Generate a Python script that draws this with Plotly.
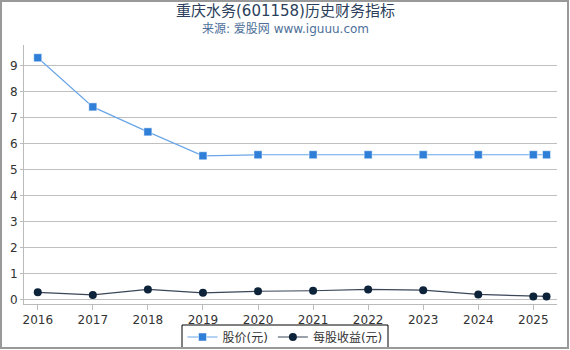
import plotly.graph_objects as go

years = [2016, 2017, 2018, 2019, 2020, 2021, 2022, 2023, 2024, 2025, 2025.24]
price = [9.31, 7.42, 6.46, 5.54, 5.58, 5.58, 5.58, 5.58, 5.58, 5.58, 5.58]
eps = [0.29, 0.19, 0.40, 0.27, 0.33, 0.35, 0.40, 0.37, 0.21, 0.13, 0.13]
tick_years = [2016, 2017, 2018, 2019, 2020, 2021, 2022, 2023, 2024, 2025]

W, H = 570, 350
L, R, T, B = 24, 13, 45, 46
pw, ph = W - L - R, H - T - B

def px(x):
    return (x - L) / pw

def py(y):
    return 1 - (y - T) / ph

FONT = "DejaVu Sans, Noto Sans CJK SC, sans-serif"

fig = go.Figure()
fig.add_trace(go.Scatter(
    x=years, y=price, name="股价(元)", mode="lines+markers",
    line=dict(color="#6aa6e8", width=1.2),
    marker=dict(symbol="square", size=8, color="#2f7ed8", line=dict(color="#ffffff", width=0.5)),
))
fig.add_trace(go.Scatter(
    x=years, y=eps, name="每股收益(元)", mode="lines+markers",
    line=dict(color="#3a4658", width=1.2),
    marker=dict(symbol="circle", size=8, color="#0d233a"),
))

fig.update_layout(
    width=W, height=H,
    margin=dict(l=L, r=R, t=T, b=B, autoexpand=False),
    paper_bgcolor="white", plot_bgcolor="white",
    font=dict(family=FONT, color="#333"),
    showlegend=True,
    legend=dict(
        orientation="h", xref="container", x=0.5, xanchor="center",
        yref="container", y=1 - 337 / H, yanchor="middle",
        borderwidth=0, bgcolor="rgba(0,0,0,0)",
        font=dict(size=12, color="#333", family=FONT),
        tracegroupgap=0, itemwidth=30,
    ),
    xaxis=dict(
        range=[2015.75, 2025.43], tickvals=tick_years, ticktext=[str(y) for y in tick_years],
        showgrid=False, zeroline=False, showline=True, linecolor="#bbb", linewidth=1,
        ticks="outside", ticklen=5, tickcolor="#bbb",
        tickfont=dict(size=12, color="#333", family="DejaVu Sans"),
    ),
    yaxis=dict(
        range=[-0.16, 9.8], tickvals=list(range(0, 10)),
        showgrid=True, gridcolor="#c0c0c0", gridwidth=1, zeroline=False,
        showline=True, linecolor="#bbb", linewidth=1,
        ticks="outside", ticklen=3, tickcolor="#bbb",
        tickfont=dict(size=12, color="#333", family="DejaVu Sans"),
    ),
    annotations=[
        dict(text="重庆水务(601158)历史财务指标", xref="paper", yref="paper",
             x=px(285), y=py(11), xanchor="center", yanchor="middle", showarrow=False,
             font=dict(size=15, color="#2b3f5c", family=FONT)),
        dict(text="来源: 爱股网 www.iguuu.com", xref="paper", yref="paper",
             x=px(285), y=py(29), xanchor="center", yanchor="middle", showarrow=False,
             font=dict(size=12, color="#4d6f99", family=FONT)),
    ],
    shapes=[
        dict(type="rect", xref="paper", yref="paper",
             x0=px(182), x1=px(388), y0=py(325), y1=py(348),
             line=dict(color="#000", width=1), fillcolor="white", layer="below"),
        dict(type="rect", xref="paper", yref="paper",
             x0=px(1), x1=px(568), y0=py(1), y1=py(348),
             line=dict(color="#999", width=2), fillcolor="rgba(0,0,0,0)", layer="above"),
    ],
)

fig.write_html("out.html")
